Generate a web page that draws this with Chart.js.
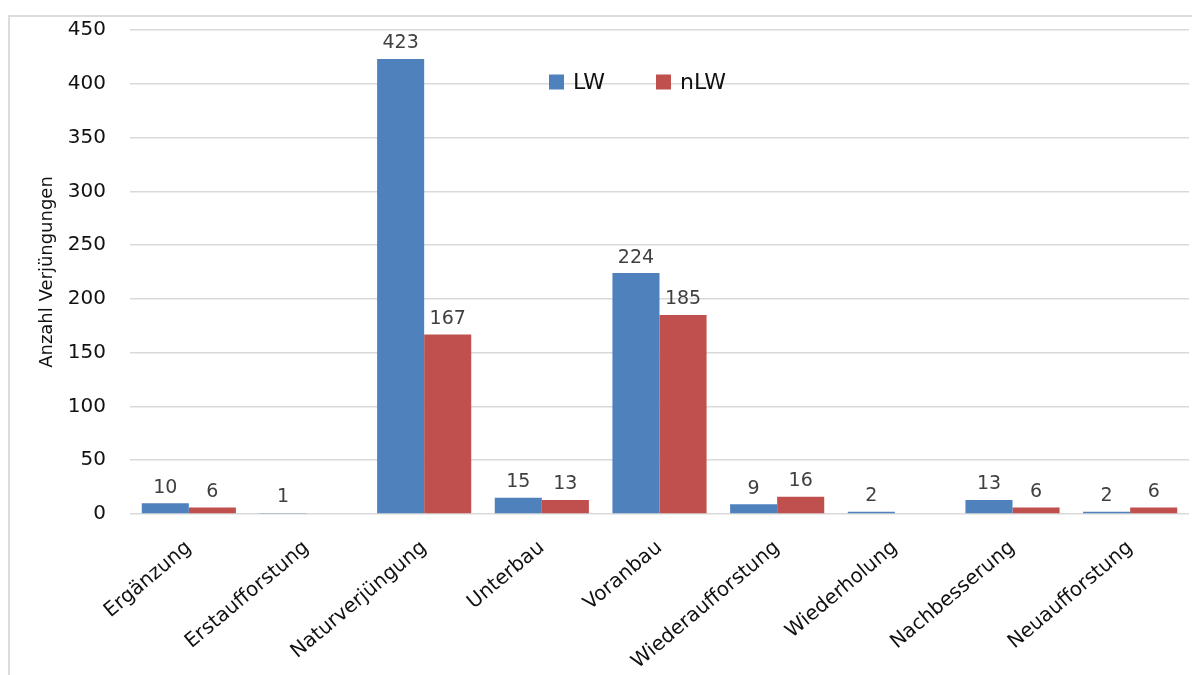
<!DOCTYPE html>
<html>
<head>
<meta charset="utf-8">
<script src="https://cdn.jsdelivr.net/npm/chart.js@4"></script>
<style>
  html, body { margin: 0; padding: 0; background: #fff; }
  #wrap { position: relative; width: 1192px; height: 675px; overflow: hidden; }
  #frame { position: absolute; left: 8px; top: 15px; width: 1200px; height: 700px;
           border-left: 2px solid #dcdcdc; border-top: 2px solid #dcdcdc; box-sizing: border-box; }
  canvas { position: absolute; left: 0; top: 0; }
</style>
</head>
<body>
<div id="wrap">
  <div id="frame"></div>
  <canvas id="chart" width="1192" height="675"></canvas>
</div>
<script>
// Daten
const categories = ["Ergänzung", "Erstaufforstung", "Naturverjüngung", "Unterbau", "Voranbau",
  "Wiederaufforstung", "Wiederholung", "Nachbesserung", "Neuaufforstung"];
const lwValues = [10, 1, 423, 15, 224, 9, 2, 13, 2];
const nlwValues = [6, null, 167, 13, 185, 16, null, 6, 6];
const seriesNames = ["LW", "nLW"];
const yAxisTitle = "Anzahl Verjüngungen";

const FONT = "'DejaVu Sans', sans-serif";

// Werte über den Balken
const valueLabels = {
  id: "valueLabels",
  afterDatasetsDraw(chart) {
    const ctx = chart.ctx;
    ctx.save();
    ctx.font = "19px " + FONT;
    ctx.fillStyle = "#404040";
    ctx.textAlign = "center";
    ctx.textBaseline = "bottom";
    chart.data.datasets.forEach((ds, i) => {
      chart.getDatasetMeta(i).data.forEach((el, j) => {
        const v = ds.data[j];
        if (v === null || v === undefined) return;
        ctx.fillText(String(v), el.x, el.y - 6);
      });
    });
    ctx.restore();
  }
};

// Legende im Diagramm
const innerLegend = {
  id: "innerLegend",
  afterDraw(chart) {
    const ctx = chart.ctx;
    ctx.save();
    ctx.font = "22px " + FONT;
    ctx.textBaseline = "middle";
    ctx.textAlign = "left";
    let x = 549;
    const y = 82;
    chart.data.datasets.forEach((ds) => {
      ctx.fillStyle = ds.backgroundColor;
      ctx.fillRect(x, y - 7.5, 15, 15);
      ctx.fillStyle = "#111";
      ctx.fillText(ds.label, x + 24, y + 1);
      x += 107;
    });
    ctx.restore();
  }
};

new Chart(document.getElementById("chart").getContext("2d"), {
  type: "bar",
  data: {
    labels: categories,
    datasets: [
      { label: seriesNames[0], data: lwValues, backgroundColor: "#4F81BD",
        categoryPercentage: 0.8, barPercentage: 1.0 },
      { label: seriesNames[1], data: nlwValues, backgroundColor: "#C0504D",
        categoryPercentage: 0.8, barPercentage: 1.0 }
    ]
  },
  options: {
    responsive: false,
    animation: false,
    layout: { padding: { left: 33, top: 30, right: 3, bottom: 0 } },
    plugins: {
      legend: { display: false },
      tooltip: { enabled: false }
    },
    scales: {
      x: {
        grid: { display: false, drawTicks: false },
        border: { display: false },
        ticks: {
          autoSkip: false,
          minRotation: 40,
          maxRotation: 40,
          padding: 22,
          color: "#111",
          font: { family: FONT, size: 20 }
        },
        afterFit(s) { s.height = 161; }
      },
      y: {
        min: 0,
        max: 450,
        // unsichtbare Tick-Striche als Abstand, damit oben kein Extra-Padding entsteht
        grid: { color: "#d9d9d9", lineWidth: 1.5, drawTicks: true, tickLength: 24, tickColor: "rgba(0,0,0,0)" },
        border: { display: false },
        ticks: {
          stepSize: 50,
          padding: 0,
          color: "#111",
          font: { family: FONT, size: 20 }
        },
        title: {
          display: true,
          text: yAxisTitle,
          color: "#111",
          font: { family: FONT, size: 18 },
          padding: 4
        },
        afterFit(s) { s.width = 97; }
      }
    }
  },
  plugins: [valueLabels, innerLegend]
});
</script>
</body>
</html>
